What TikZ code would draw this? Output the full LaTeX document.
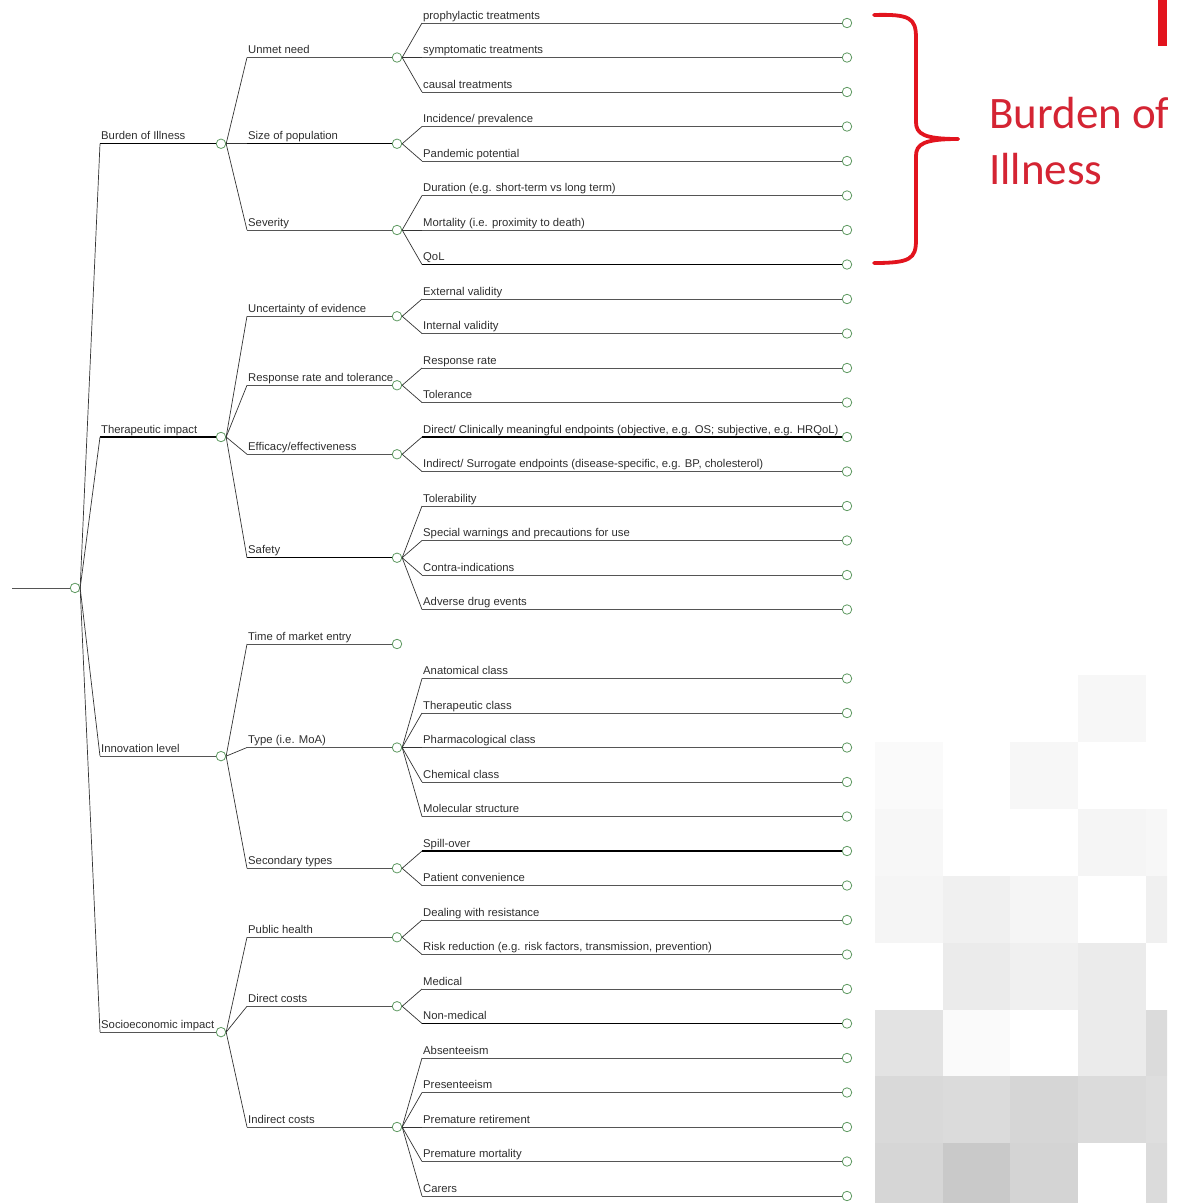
\documentclass[tikz,border=0pt]{standalone}
\usepackage{fontspec}
\setmainfont{Liberation Sans}
\newfontfamily\slidefont{Carlito}
\usepackage{xcolor}

\definecolor{linegray}{HTML}{555555}
\definecolor{nodegreen}{HTML}{5F9A62}
\definecolor{bracered}{HTML}{E2141E}
\definecolor{titlered}{HTML}{D42433}
\definecolor{labelgray}{HTML}{2E2E2E}

\begin{document}
\begin{tikzpicture}[x=1pt, y=-1pt,
  branch/.style={draw=linegray, line width=0.8pt},
  heavy/.style={draw=black, line width=1.4pt},
  fan/.style={draw=black!80, line width=0.7pt},
  chance/.style={circle, draw=nodegreen, fill=white, line width=0.8pt, inner sep=0pt, minimum size=9.5pt},
  lbl/.style={anchor=base west, inner sep=0pt, xshift=1pt, yshift=4pt, text=labelgray, font=\fontsize{11.3}{13}\selectfont}]
\useasboundingbox (0,0) rectangle (1179,1203);

% Grey pixel backdrop (bottom right)
\begin{scope}
\clip (0,0) rectangle (1167,1203);
\foreach \col/\rw/\g in {3/0/3, 0/1/2, 2/1/3, 0/2/3, 3/2/4, 4/2/3,
    0/3/4, 1/3/6, 2/3/4, 4/3/6, 1/4/8, 2/4/6, 3/4/8,
    0/5/11, 1/5/2, 3/5/8, 4/5/14, 0/6/15, 1/6/14, 2/6/16, 3/6/14, 4/6/13,
    0/7/16, 1/7/21, 2/7/17, 4/7/14}
  \fill[black!\g] ({875+67.7*\col},{675+66.9*\rw}) rectangle +(67.7,66.9);
% Red brace and title
\fill[bracered] (1158,0) rectangle (1167,46);
\node[anchor=base west, inner sep=0pt, text=titlered, font=\slidefont\fontsize{45}{56}\selectfont] (title1) at (989,128) {Burden of};
\node[anchor=base west, inner sep=0pt, text=titlered, font=\slidefont\fontsize{45}{56}\selectfont] (title2) at (989,184) {Illness};
\end{scope}
\draw[bracered, line width=3.8pt, line cap=round] (874,15) .. controls (910,14) and (916,18) .. (916,38) -- (916,122) .. controls (916,134) and (924,139) .. (958,139);
\draw[bracered, line width=3.8pt, line cap=round] (958,139) .. controls (924,139) and (916,144) .. (916,156) -- (916,240) .. controls (916,259) and (910,263) .. (874,263);

% Root
\coordinate (sroot) at (12,{23+34.5*16.375});
\node[chance] (croot) at (75,{23+34.5*16.375}) {};
\draw[branch] (sroot) -- (croot);

% First level
\foreach \n/\row/\sty/\txt in {bi/3.5/heavy/Burden of Illness, ti/12/heavy/Therapeutic impact,
    il/21.25/branch/Innovation level, se/29.25/branch/Socioeconomic impact}{
  \coordinate (s\n) at (100,{23+34.5*\row});
  \node[chance] (c\n) at (221,{23+34.5*\row}) {};
  \draw[\sty] (s\n) -- (c\n);
  \draw[fan] (croot.east) -- (s\n);
  \node[lbl] (l\n) at (s\n) {\txt};
}

% Second level
\foreach \n/\up/\row/\sty/\txt in {un/bi/1/branch/Unmet need, sp/bi/3.5/heavy/Size of population,
    sv/bi/6/branch/Severity, ue/ti/8.5/branch/Uncertainty of evidence,
    rt/ti/10.5/branch/Response rate and tolerance, ef/ti/12.5/branch/{Efficacy/effectiveness},
    sa/ti/15.5/heavy/Safety, tm/il/18/branch/Time of market entry, ty/il/21/branch/Type (i.e. MoA),
    st/il/24.5/branch/Secondary types, ph/se/26.5/branch/Public health,
    dc/se/28.5/branch/Direct costs, ic/se/32/branch/Indirect costs}{
  \coordinate (s\n) at (247,{23+34.5*\row});
  \node[chance] (c\n) at (397,{23+34.5*\row}) {};
  \draw[\sty] (s\n) -- (c\n);
  \draw[fan] (c\up.east) -- (s\n);
  \node[lbl] (l\n) at (s\n) {\txt};
}

% Outcomes
\foreach \row/\up/\sty/\txt in {0/un/branch/prophylactic treatments, 1/un/branch/symptomatic treatments,
    2/un/branch/causal treatments, 3/sp/branch/{Incidence/ prevalence}, 4/sp/branch/Pandemic potential,
    5/sv/branch/Duration (e.g. short-term vs long term), 6/sv/branch/Mortality (i.e. proximity to death),
    7/sv/heavy/QoL, 8/ue/branch/External validity, 9/ue/branch/Internal validity,
    10/rt/branch/Response rate, 11/rt/branch/Tolerance,
    12/ef/heavy/{Direct/ Clinically meaningful endpoints (objective, e.g. OS; subjective, e.g. HRQoL)},
    13/ef/branch/{Indirect/ Surrogate endpoints (disease-specific, e.g. BP, cholesterol)},
    14/sa/branch/Tolerability, 15/sa/branch/Special warnings and precautions for use,
    16/sa/branch/Contra-indications, 17/sa/branch/Adverse drug events,
    19/ty/branch/Anatomical class, 20/ty/branch/Therapeutic class, 21/ty/branch/Pharmacological class,
    22/ty/branch/Chemical class, 23/ty/branch/Molecular structure,
    24/st/heavy/Spill-over, 25/st/branch/Patient convenience,
    26/ph/branch/Dealing with resistance,
    27/ph/branch/{Risk reduction (e.g. risk factors, transmission, prevention)},
    28/dc/branch/Medical, 29/dc/heavy/Non-medical,
    30/ic/branch/Absenteeism, 31/ic/branch/Presenteeism, 32/ic/branch/Premature retirement,
    33/ic/branch/Premature mortality, 34/ic/branch/Carers}{
  \coordinate (o\row) at (422,{23+34.5*\row});
  \node[chance] (e\row) at (847,{23+34.5*\row}) {};
  \draw[\sty] (o\row) -- (e\row);
  \draw[fan] (c\up.east) -- (o\row);
  \node[lbl] (t\row) at (o\row) {\txt};
}
\end{tikzpicture}
\end{document}
